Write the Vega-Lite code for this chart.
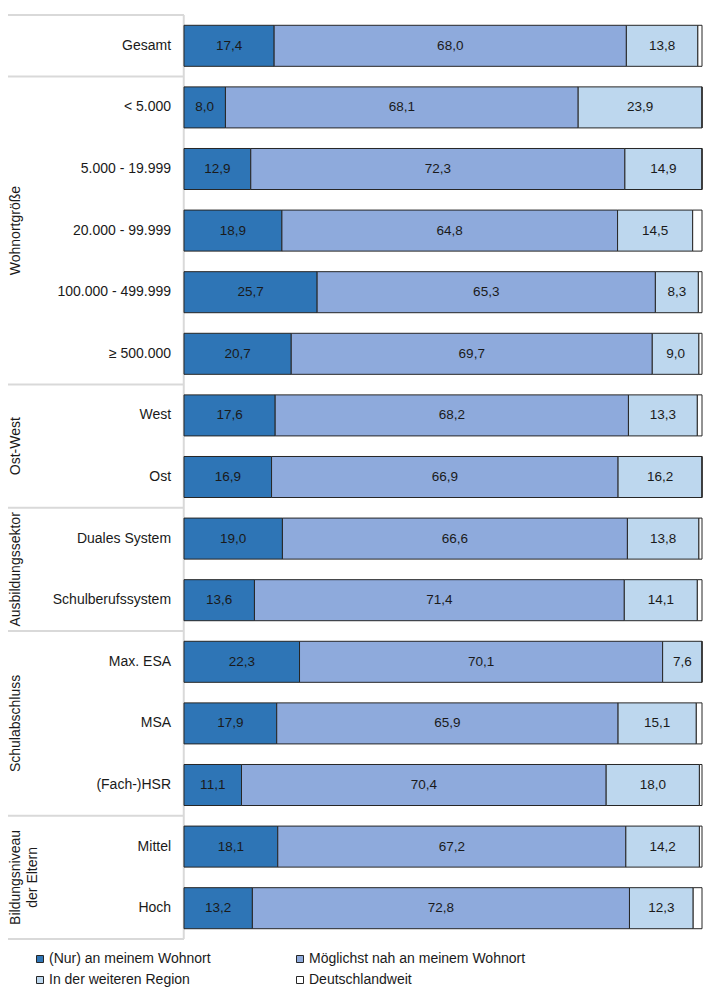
{
  "$schema": "https://vega.github.io/schema/vega-lite/v6.json",
  "width": 694,
  "height": 924,
  "padding": {"left": 7, "top": 14, "right": 19, "bottom": 4},
  "config": {
    "view": {"stroke": null},
    "font": "Liberation Sans",
    "legend": {"labelFont": "Liberation Sans", "labelFontSize": 14, "labelColor": "#1a1a1a", "labelLimit": 0}
  },
  "datasets": {
    "main": [
      {"cat": "Gesamt", "s": "(Nur) an meinem Wohnort", "k": 1, "v": 17.4, "t": "17,4"},
      {"cat": "Gesamt", "s": "Möglichst nah an meinem Wohnort", "k": 2, "v": 68.0, "t": "68,0"},
      {"cat": "Gesamt", "s": "In der weiteren Region", "k": 3, "v": 13.8, "t": "13,8"},
      {"cat": "Gesamt", "s": "Deutschlandweit", "k": 4, "v": 0.8, "t": ""},
      {"cat": "< 5.000", "s": "(Nur) an meinem Wohnort", "k": 1, "v": 8.0, "t": "8,0"},
      {"cat": "< 5.000", "s": "Möglichst nah an meinem Wohnort", "k": 2, "v": 68.1, "t": "68,1"},
      {"cat": "< 5.000", "s": "In der weiteren Region", "k": 3, "v": 23.9, "t": "23,9"},
      {"cat": "< 5.000", "s": "Deutschlandweit", "k": 4, "v": 0.0, "t": ""},
      {"cat": "5.000 - 19.999", "s": "(Nur) an meinem Wohnort", "k": 1, "v": 12.9, "t": "12,9"},
      {"cat": "5.000 - 19.999", "s": "Möglichst nah an meinem Wohnort", "k": 2, "v": 72.3, "t": "72,3"},
      {"cat": "5.000 - 19.999", "s": "In der weiteren Region", "k": 3, "v": 14.9, "t": "14,9"},
      {"cat": "5.000 - 19.999", "s": "Deutschlandweit", "k": 4, "v": 0.0, "t": ""},
      {"cat": "20.000 - 99.999", "s": "(Nur) an meinem Wohnort", "k": 1, "v": 18.9, "t": "18,9"},
      {"cat": "20.000 - 99.999", "s": "Möglichst nah an meinem Wohnort", "k": 2, "v": 64.8, "t": "64,8"},
      {"cat": "20.000 - 99.999", "s": "In der weiteren Region", "k": 3, "v": 14.5, "t": "14,5"},
      {"cat": "20.000 - 99.999", "s": "Deutschlandweit", "k": 4, "v": 1.8, "t": ""},
      {"cat": "100.000 - 499.999", "s": "(Nur) an meinem Wohnort", "k": 1, "v": 25.7, "t": "25,7"},
      {"cat": "100.000 - 499.999", "s": "Möglichst nah an meinem Wohnort", "k": 2, "v": 65.3, "t": "65,3"},
      {"cat": "100.000 - 499.999", "s": "In der weiteren Region", "k": 3, "v": 8.3, "t": "8,3"},
      {"cat": "100.000 - 499.999", "s": "Deutschlandweit", "k": 4, "v": 0.7, "t": ""},
      {"cat": "≥ 500.000", "s": "(Nur) an meinem Wohnort", "k": 1, "v": 20.7, "t": "20,7"},
      {"cat": "≥ 500.000", "s": "Möglichst nah an meinem Wohnort", "k": 2, "v": 69.7, "t": "69,7"},
      {"cat": "≥ 500.000", "s": "In der weiteren Region", "k": 3, "v": 9.0, "t": "9,0"},
      {"cat": "≥ 500.000", "s": "Deutschlandweit", "k": 4, "v": 0.6, "t": ""},
      {"cat": "West", "s": "(Nur) an meinem Wohnort", "k": 1, "v": 17.6, "t": "17,6"},
      {"cat": "West", "s": "Möglichst nah an meinem Wohnort", "k": 2, "v": 68.2, "t": "68,2"},
      {"cat": "West", "s": "In der weiteren Region", "k": 3, "v": 13.3, "t": "13,3"},
      {"cat": "West", "s": "Deutschlandweit", "k": 4, "v": 0.9, "t": ""},
      {"cat": "Ost", "s": "(Nur) an meinem Wohnort", "k": 1, "v": 16.9, "t": "16,9"},
      {"cat": "Ost", "s": "Möglichst nah an meinem Wohnort", "k": 2, "v": 66.9, "t": "66,9"},
      {"cat": "Ost", "s": "In der weiteren Region", "k": 3, "v": 16.2, "t": "16,2"},
      {"cat": "Ost", "s": "Deutschlandweit", "k": 4, "v": 0.0, "t": ""},
      {"cat": "Duales System", "s": "(Nur) an meinem Wohnort", "k": 1, "v": 19.0, "t": "19,0"},
      {"cat": "Duales System", "s": "Möglichst nah an meinem Wohnort", "k": 2, "v": 66.6, "t": "66,6"},
      {"cat": "Duales System", "s": "In der weiteren Region", "k": 3, "v": 13.8, "t": "13,8"},
      {"cat": "Duales System", "s": "Deutschlandweit", "k": 4, "v": 0.6, "t": ""},
      {"cat": "Schulberufssystem", "s": "(Nur) an meinem Wohnort", "k": 1, "v": 13.6, "t": "13,6"},
      {"cat": "Schulberufssystem", "s": "Möglichst nah an meinem Wohnort", "k": 2, "v": 71.4, "t": "71,4"},
      {"cat": "Schulberufssystem", "s": "In der weiteren Region", "k": 3, "v": 14.1, "t": "14,1"},
      {"cat": "Schulberufssystem", "s": "Deutschlandweit", "k": 4, "v": 0.9, "t": ""},
      {"cat": "Max. ESA", "s": "(Nur) an meinem Wohnort", "k": 1, "v": 22.3, "t": "22,3"},
      {"cat": "Max. ESA", "s": "Möglichst nah an meinem Wohnort", "k": 2, "v": 70.1, "t": "70,1"},
      {"cat": "Max. ESA", "s": "In der weiteren Region", "k": 3, "v": 7.6, "t": "7,6"},
      {"cat": "Max. ESA", "s": "Deutschlandweit", "k": 4, "v": 0.0, "t": ""},
      {"cat": "MSA", "s": "(Nur) an meinem Wohnort", "k": 1, "v": 17.9, "t": "17,9"},
      {"cat": "MSA", "s": "Möglichst nah an meinem Wohnort", "k": 2, "v": 65.9, "t": "65,9"},
      {"cat": "MSA", "s": "In der weiteren Region", "k": 3, "v": 15.1, "t": "15,1"},
      {"cat": "MSA", "s": "Deutschlandweit", "k": 4, "v": 1.1, "t": ""},
      {"cat": "(Fach-)HSR", "s": "(Nur) an meinem Wohnort", "k": 1, "v": 11.1, "t": "11,1"},
      {"cat": "(Fach-)HSR", "s": "Möglichst nah an meinem Wohnort", "k": 2, "v": 70.4, "t": "70,4"},
      {"cat": "(Fach-)HSR", "s": "In der weiteren Region", "k": 3, "v": 18.0, "t": "18,0"},
      {"cat": "(Fach-)HSR", "s": "Deutschlandweit", "k": 4, "v": 0.5, "t": ""},
      {"cat": "Mittel", "s": "(Nur) an meinem Wohnort", "k": 1, "v": 18.1, "t": "18,1"},
      {"cat": "Mittel", "s": "Möglichst nah an meinem Wohnort", "k": 2, "v": 67.2, "t": "67,2"},
      {"cat": "Mittel", "s": "In der weiteren Region", "k": 3, "v": 14.2, "t": "14,2"},
      {"cat": "Mittel", "s": "Deutschlandweit", "k": 4, "v": 0.5, "t": ""},
      {"cat": "Hoch", "s": "(Nur) an meinem Wohnort", "k": 1, "v": 13.2, "t": "13,2"},
      {"cat": "Hoch", "s": "Möglichst nah an meinem Wohnort", "k": 2, "v": 72.8, "t": "72,8"},
      {"cat": "Hoch", "s": "In der weiteren Region", "k": 3, "v": 12.3, "t": "12,3"},
      {"cat": "Hoch", "s": "Deutschlandweit", "k": 4, "v": 1.7, "t": ""}
    ],
    "groupsOdd": [
      {"g": "Wohnortgröße", "a": "20.000 - 99.999"},
      {"g": "Schulabschluss", "a": "MSA"}
    ],
    "groupsEven": [
      {"g": "Ost-West", "a": "Ost"},
      {"g": "Ausbildungssektor", "a": "Schulberufssystem"},
      {"g": "Bildungsniveau\nder Eltern", "a": "Hoch"}
    ],
    "seps": [
      {"first": "Gesamt"},
      {"first": "< 5.000"},
      {"first": "West"},
      {"first": "Duales System"},
      {"first": "Max. ESA"},
      {"first": "Mittel"}
    ],
    "bottom": [
      {"last": "Hoch"}
    ]
  },
  "layer": [
    {
      "data": {"name": "bottom"},
      "mark": {"type": "rule", "color": "#d9d9d9", "strokeWidth": 2},
      "encoding": {
        "x": {"datum": -0.0005, "type": "quantitative", "scale": {"domain": [-0.3398, 1], "nice": false, "zero": false}, "axis": null}
      }
    },
    {
      "data": {"name": "seps"},
      "mark": {"type": "rule", "color": "#d9d9d9", "strokeWidth": 2},
      "encoding": {
        "y": {
          "field": "first",
          "type": "nominal",
          "bandPosition": 0,
          "axis": null,
          "scale": {
            "domain": ["Gesamt", "< 5.000", "5.000 - 19.999", "20.000 - 99.999", "100.000 - 499.999", "≥ 500.000", "West", "Ost", "Duales System", "Schulberufssystem", "Max. ESA", "MSA", "(Fach-)HSR", "Mittel", "Hoch"],
            "paddingInner": 0,
            "paddingOuter": 0
          }
        },
        "x": {"datum": -0.3398, "type": "quantitative"},
        "x2": {"datum": 0}
      }
    },
    {
      "data": {"name": "bottom"},
      "mark": {"type": "rule", "color": "#d9d9d9", "strokeWidth": 2},
      "encoding": {
        "y": {"field": "last", "type": "nominal", "bandPosition": 1},
        "x": {"datum": -0.3398, "type": "quantitative"},
        "x2": {"datum": 0}
      }
    },
    {
      "data": {"name": "main"},
      "mark": {"type": "bar", "height": {"band": 0.666}, "stroke": "#262626", "strokeWidth": 1},
      "encoding": {
        "y": {"field": "cat", "type": "nominal"},
        "x": {"field": "v", "type": "quantitative", "stack": "normalize"},
        "color": {
          "field": "s",
          "type": "nominal",
          "scale": {
            "domain": ["(Nur) an meinem Wohnort", "Möglichst nah an meinem Wohnort", "In der weiteren Region", "Deutschlandweit"],
            "range": ["#2e75b6", "#8eaadc", "#bdd7ee", "#ffffff"]
          },
          "legend": {
            "title": null,
            "orient": "none",
            "legendX": 25,
            "legendY": 937,
            "columns": 2,
            "direction": "horizontal",
            "columnPadding": 82,
            "rowPadding": 7,
            "symbolType": "square",
            "symbolSize": 49,
            "symbolStrokeColor": "#262626",
            "symbolStrokeWidth": 1,
            "symbolOpacity": 1,
            "labelOffset": 2,
            "labelLimit": 0,
            "padding": 0
          }
        },
        "order": {"field": "k", "type": "quantitative"}
      }
    },
    {
      "data": {"name": "main"},
      "mark": {"type": "text", "fontSize": 13.5, "color": "#1a1a1a", "align": "center", "baseline": "middle"},
      "encoding": {
        "y": {"field": "cat", "type": "nominal"},
        "x": {"field": "v", "type": "quantitative", "stack": "normalize", "bandPosition": 0.5},
        "order": {"field": "k", "type": "quantitative"},
        "text": {"field": "t", "type": "nominal"}
      }
    },
    {
      "data": {"name": "main"},
      "transform": [{"filter": "datum.k == 1"}],
      "mark": {"type": "text", "fontSize": 14, "color": "#1a1a1a", "align": "right", "baseline": "middle"},
      "encoding": {
        "y": {"field": "cat", "type": "nominal"},
        "x": {"datum": -0.025, "type": "quantitative"},
        "text": {"field": "cat", "type": "nominal"}
      }
    },
    {
      "data": {"name": "groupsOdd"},
      "mark": {"type": "text", "fontSize": 14, "color": "#1a1a1a", "align": "center", "baseline": "top", "angle": 270, "lineBreak": "\n", "lineHeight": 17},
      "encoding": {
        "y": {"field": "a", "type": "nominal", "bandPosition": 0.5},
        "x": {"datum": -0.3375, "type": "quantitative"},
        "text": {"field": "g", "type": "nominal"}
      }
    },
    {
      "data": {"name": "groupsEven"},
      "mark": {"type": "text", "fontSize": 14, "color": "#1a1a1a", "align": "center", "baseline": "top", "angle": 270, "lineBreak": "\n", "lineHeight": 17},
      "encoding": {
        "y": {"field": "a", "type": "nominal", "bandPosition": 0},
        "x": {"datum": -0.3375, "type": "quantitative"},
        "text": {"field": "g", "type": "nominal"}
      }
    }
  ]
}
